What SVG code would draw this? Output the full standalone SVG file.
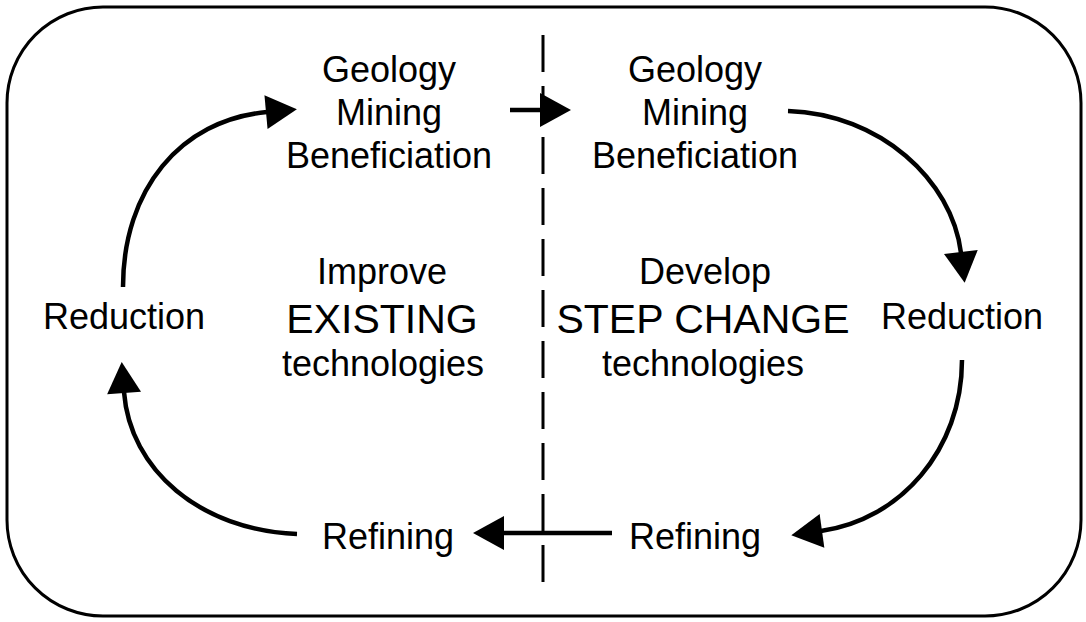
<svg xmlns="http://www.w3.org/2000/svg" width="1086" height="622" viewBox="0 0 1086 622">
  <style>
    .lbl { font-family: "Liberation Sans", Arial, sans-serif; font-size: 36px; fill: #000; text-anchor: middle; }
    .big { font-size: 41px; }
    .conn { fill: none; stroke: #000; stroke-width: 4.5; marker-end: url(#head); }
    .frame { fill: #fff; stroke: #000; stroke-width: 3; }
    .divider { stroke: #000; stroke-width: 3; stroke-dasharray: 37 14; }
  </style>
  <defs>
    <marker id="head" markerUnits="userSpaceOnUse" markerWidth="31" markerHeight="34" refX="1" refY="17" orient="auto" overflow="visible">
      <path d="M0,0 L31,17 L0,34 z" fill="#000"/>
    </marker>
  </defs>

  <rect width="1086" height="622" fill="#fff"/>
  <rect class="frame" x="7" y="7" width="1074" height="609" rx="96" ry="96"/>

  <!-- dashed split between the two halves -->
  <line class="divider" x1="543" y1="582" x2="543" y2="28"/>

  <g id="connectors">
    <path class="conn" d="M510,110 L541,110"/>
    <path class="conn" d="M612,533 L503,533"/>
    <path class="conn" d="M123,287 C123,190 180,120 267,112"/>
    <path class="conn" d="M297,534 C200,530 130,470 124,392"/>
    <path class="conn" d="M788,111 C880,114 952,180 961,253"/>
    <path class="conn" d="M962,360 C962,450 900,520 821,531"/>
  </g>

  <g id="upstream-existing">
    <text class="lbl" x="389" y="82">Geology</text>
    <text class="lbl" x="389" y="125">Mining</text>
    <text class="lbl" x="389" y="168">Beneficiation</text>
  </g>
  <g id="upstream-stepchange">
    <text class="lbl" x="695" y="82">Geology</text>
    <text class="lbl" x="695" y="125">Mining</text>
    <text class="lbl" x="695" y="168">Beneficiation</text>
  </g>
  <g id="reduction-existing">
    <text class="lbl" x="124" y="329">Reduction</text>
  </g>
  <g id="reduction-stepchange">
    <text class="lbl" x="962" y="329">Reduction</text>
  </g>
  <g id="refining-existing">
    <text class="lbl" x="388" y="549">Refining</text>
  </g>
  <g id="refining-stepchange">
    <text class="lbl" x="695" y="549">Refining</text>
  </g>
  <g id="improve-existing">
    <text class="lbl" x="382" y="284">Improve</text>
    <text class="lbl big" x="382" y="333">EXISTING</text>
    <text class="lbl" x="383" y="376">technologies</text>
  </g>
  <g id="develop-stepchange">
    <text class="lbl" x="705" y="284">Develop</text>
    <text class="lbl big" x="703" y="333">STEP CHANGE</text>
    <text class="lbl" x="703" y="376">technologies</text>
  </g>
</svg>
